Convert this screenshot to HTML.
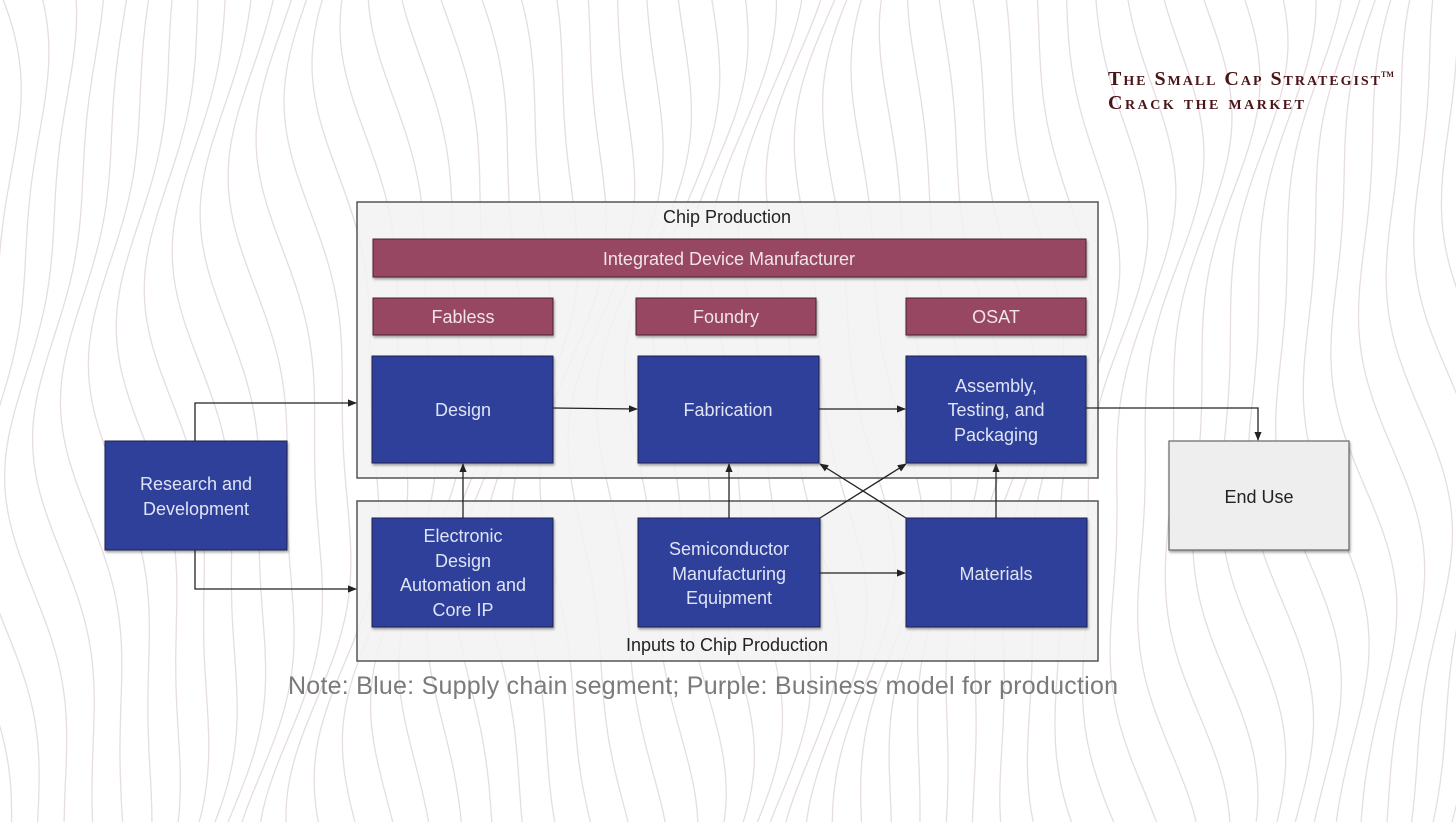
<!DOCTYPE html>
<html><head><meta charset="utf-8"><style>
html,body{margin:0;padding:0;background:#fff;}
svg{display:block;}
text{font-family:"Liberation Sans",sans-serif;}
text.lg{font-family:"Liberation Serif",serif;font-weight:bold;}
</style></head><body>
<svg id="s" width="1456" height="822" viewBox="0 0 1456 822" xmlns="http://www.w3.org/2000/svg">
<defs>
<marker id="a" viewBox="0 0 10 10" refX="9" refY="5" markerWidth="7" markerHeight="7" orient="auto"><path d="M0,1 L10,5 L0,9 z" fill="#222"/></marker>
<filter id="sh" x="-5%" y="-5%" width="110%" height="115%"><feDropShadow dx="1" dy="2" stdDeviation="1.2" flood-color="#000" flood-opacity="0.35"/></filter>
</defs>
<g id="bg" fill="none" stroke="#e6dce3" stroke-width="1.3"></g>

<text class="lg" x="1108" y="85" font-size="20" fill="#4a1418" font-variant="small-caps" textLength="272">The Small Cap Strategist</text>
<text class="lg" x="1381" y="77" font-size="8" fill="#4a1418">TM</text>
<text class="lg" x="1108" y="109" font-size="20" fill="#4a1418" font-variant="small-caps" textLength="196">Crack the market</text>

<rect x="357" y="202" width="741" height="276" fill="#f2f2f2" fill-opacity="0.85" stroke="#555" stroke-width="1.5"/>
<text x="727" y="223" font-size="18" fill="#222" text-anchor="middle">Chip Production</text>
<rect x="357" y="501" width="741" height="160" fill="#f2f2f2" fill-opacity="0.85" stroke="#555" stroke-width="1.5"/>
<text x="727" y="651" font-size="18" fill="#222" text-anchor="middle">Inputs to Chip Production</text>

<g fill="#984663" stroke="#4a2030" stroke-width="1" filter="url(#sh)">
<rect x="373" y="239" width="713" height="38"/>
<rect x="373" y="298" width="180" height="37"/>
<rect x="636" y="298" width="180" height="37"/>
<rect x="906" y="298" width="180" height="37"/>
</g>
<g font-size="18" fill="#f0e4ea" text-anchor="middle">
<text x="729" y="265">Integrated Device Manufacturer</text>
<text x="463" y="323">Fabless</text>
<text x="726" y="323">Foundry</text>
<text x="996" y="323">OSAT</text>
</g>

<g fill="#2e3f9a" stroke="#1a2250" stroke-width="1" filter="url(#sh)">
<rect x="372" y="356" width="181" height="107"/>
<rect x="638" y="356" width="181" height="107"/>
<rect x="906" y="356" width="180" height="107"/>
<rect x="372" y="518" width="181" height="109"/>
<rect x="638" y="518" width="182" height="109"/>
<rect x="906" y="518" width="181" height="109"/>
<rect x="105" y="441" width="182" height="109"/>
</g>
<rect x="1169" y="441" width="180" height="109" fill="#eeeeee" stroke="#666" stroke-width="1.2" filter="url(#sh)"/>

<g font-size="18" fill="#dfe4f5" text-anchor="middle">
<text x="463" y="416">Design</text>
<text x="728" y="416">Fabrication</text>
<text x="996" y="392">Assembly,</text>
<text x="996" y="416">Testing, and</text>
<text x="996" y="441">Packaging</text>
<text x="463" y="542">Electronic</text>
<text x="463" y="567">Design</text>
<text x="463" y="591">Automation and</text>
<text x="463" y="616">Core IP</text>
<text x="729" y="555">Semiconductor</text>
<text x="729" y="580">Manufacturing</text>
<text x="729" y="604">Equipment</text>
<text x="996" y="580">Materials</text>
<text x="196" y="490">Research and</text>
<text x="196" y="515">Development</text>
</g>
<text x="1259" y="503" font-size="18" fill="#222" text-anchor="middle">End Use</text>

<g stroke="#222" stroke-width="1.3" fill="none" marker-end="url(#a)">
<path d="M195 441 V403 H356"/>
<path d="M195 550 V589 H356"/>
<path d="M553 408 L637 409"/>
<path d="M819 409 H905"/>
<path d="M1086 408 H1258 V440"/>
<path d="M463 518 V464"/>
<path d="M729 518 V464"/>
<path d="M996 518 V464"/>
<path d="M820 573 H905"/>
<path d="M820 518 L906 464"/>
<path d="M906 518 L820 464"/>
</g>

<text x="703" y="694" font-size="25" fill="#7a7a7a" text-anchor="middle" textLength="830">Note: Blue: Supply chain segment; Purple: Business model for production</text>
<script>
(function(){var g=document.getElementById('bg'),ns='http://www.w3.org/2000/svg';
for(var i=0;i<56;i++){var x0=-40+i*28,d='';
for(var y=-10;y<=840;y+=8){var x=x0+30*Math.sin(y/120+i*0.3)+10*Math.sin(y/55+i*0.7);d+=(d?' L':'M')+x.toFixed(1)+' '+y;}
var p=document.createElementNS(ns,'path');p.setAttribute('d',d);g.appendChild(p);}})();
</script>
</svg>
</body></html>
